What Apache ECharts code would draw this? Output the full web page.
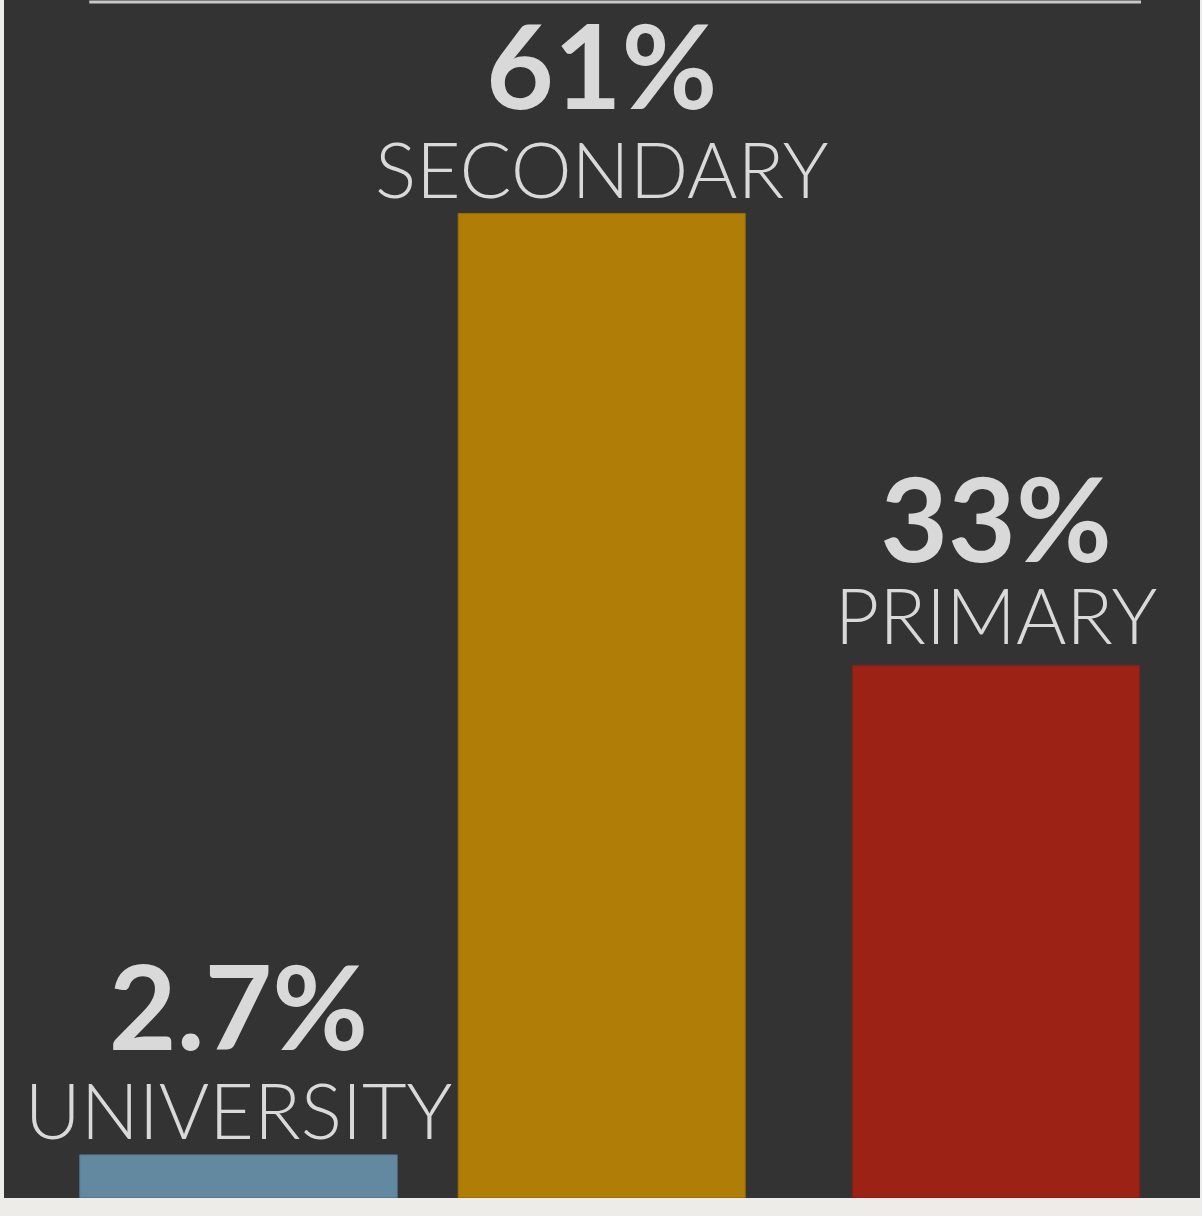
<!DOCTYPE html>
<html>
<head>
<meta charset="utf-8">
<script src="https://cdn.jsdelivr.net/npm/echarts@6/dist/echarts.min.js"></script>
<style>
  html, body { margin: 0; padding: 0; background: #edece8; width: 1202px; height: 1216px; overflow: hidden; }
  #c { position: absolute; left: 4px; top: 0; width: 1196px; height: 1198px; background: #333333; }
</style>
</head>
<body>
<div id="c"></div>
<script>
const categories = ['UNIVERSITY', 'SECONDARY', 'PRIMARY'];
const values = [2.7, 61, 33];
const valueLabels = ['2.7%', '61%', '33%'];
const colors = ['#6389a1', '#b07e07', '#9c2216'];
const borderColors = ['#56788e', '#9a6e06', '#8a1e13'];

const gridBoxes = [
  { left: 75.3, width: 318.4 },
  { left: 453.7, width: 288 },
  { left: 848, width: 288 }
];
const labelTune = [
  { distance: 0, vLH: 124 },
  { distance: 0, vLH: 124 },
  { distance: 6, vLH: 110 }
];

const chart = echarts.init(document.getElementById('c'), null, { renderer: 'canvas' });
const option = {
  backgroundColor: '#333333',
  animation: false,
  grid: gridBoxes.map(g => ({ left: g.left, width: g.width, top: 67.6, bottom: 0 })),
  xAxis: categories.map((c, i) => ({
    type: 'category', gridIndex: i, data: [c],
    show: false
  })),
  yAxis: categories.map((c, i) => ({
    type: 'value', gridIndex: i, min: 0, max: 70,
    show: false, splitLine: { show: false }
  })),
  series: categories.map((c, i) => ({
    type: 'bar',
    name: c,
    xAxisIndex: i,
    yAxisIndex: i,
    barWidth: '100%',
    data: [values[i]],
    itemStyle: { color: colors[i], borderColor: borderColors[i], borderWidth: 1 },
    label: {
      show: true,
      position: 'top',
      distance: labelTune[i].distance,
      formatter: () => '{v|' + valueLabels[i] + '}\n{c|' + categories[i] + '}',
      rich: {
        v: { fontFamily: 'Lato', fontWeight: 'bold', fontSize: 117, lineHeight: labelTune[i].vLH, color: '#d9d9d9', align: 'center' },
        c: { fontFamily: 'Lato', fontWeight: 300, fontSize: 77, lineHeight: 80, color: '#d9d9d9', align: 'center' }
      }
    }
  })),
  graphic: [{
    type: 'line',
    shape: { x1: 85.3, y1: 2, x2: 1137, y2: 2 },
    style: { stroke: '#c8c8c8', lineWidth: 3 },
    silent: true
  }]
};
chart.setOption(option);
</script>
</body>
</html>
